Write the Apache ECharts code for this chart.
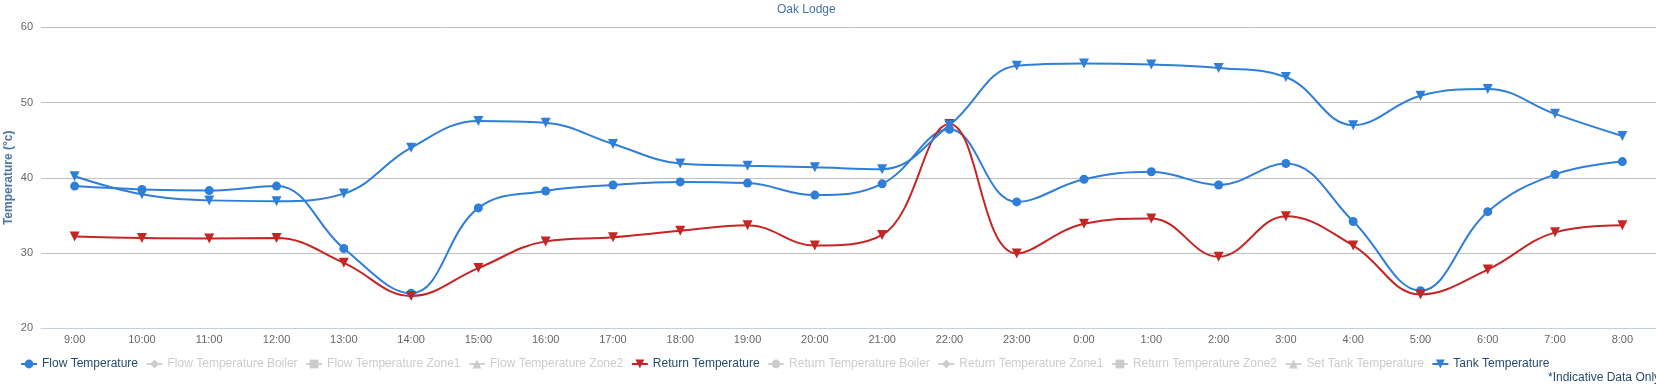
<!DOCTYPE html>
<html>
<head>
<meta charset="utf-8">
<script src="https://cdn.jsdelivr.net/npm/echarts@6/dist/echarts.min.js"></script>
<style>
html,body{margin:0;padding:0;background:#fff;}
#chart{width:1656px;height:390px;}
</style>
</head>
<body>
<div id="chart"></div>
<script>
var categories = ['9:00','10:00','11:00','12:00','13:00','14:00','15:00','16:00','17:00','18:00','19:00','20:00','21:00','22:00','23:00','0:00','1:00','2:00','3:00','4:00','5:00','6:00','7:00','8:00'];
var flowTemperature = [38.9,38.45,38.3,38.9,30.6,24.65,36.0,38.25,39.05,39.45,39.3,37.7,39.2,46.45,36.8,39.8,40.8,39.05,41.9,34.2,25.0,35.5,40.45,42.15];
var returnTemperature = [32.2,32.0,31.95,32.0,28.7,24.3,28.0,31.55,32.1,32.95,33.7,31.0,32.4,47.15,29.95,33.9,34.6,29.5,34.9,31.0,24.5,27.8,32.75,33.7];
var tankTemperature = [40.2,37.8,37.0,36.9,37.9,44.0,47.55,47.3,44.5,41.9,41.6,41.4,41.15,47.0,54.9,55.2,55.05,54.6,53.4,47.0,50.9,51.8,48.5,45.55];
var flowTemperatureBoiler = [];
var flowTemperatureZone1 = [];
var flowTemperatureZone2 = [];
var returnTemperatureBoiler = [];
var returnTemperatureZone1 = [];
var returnTemperatureZone2 = [];
var setTankTemperature = [];
var yTicks = [20, 30, 40, 50, 60];

var chart = echarts.init(document.getElementById('chart'), null, {renderer: 'canvas'});
var FONT = '"Liberation Sans", Arial, sans-serif';
var BLUE = '#2f7ed8';
var RED = '#c42525';

function mk(name, data, color, symbol, rot, size) {
  return {
    name: name, type: 'line', data: data, smooth: 0.4,
    symbol: symbol, symbolSize: size || 9, symbolRotate: rot || 0,
    showSymbol: true,
    itemStyle: {color: color},
    lineStyle: {color: color, width: 2},
    emphasis: {disabled: true},
    animation: false, z: 3
  };
}

var option = {
  animation: false,
  title: {
    text: 'Oak Lodge', left: 777, top: 4, padding: 0,
    textStyle: {fontFamily: FONT, fontSize: 12, fontWeight: 'normal', color: '#4572A7'}
  },
  grid: {left: 41, right: 0, top: 27.3, height: 301, containLabel: false, outerBoundsMode: 'none'},
  legend: {
    left: 20, top: 358, padding: 0, itemGap: 7.5, itemWidth: 16, itemHeight: 11,
    textStyle: {fontFamily: FONT, fontSize: 12, color: '#274b6d'},
    inactiveColor: '#cccccc',
    selected: {
      'Flow Temperature Boiler': false,
      'Flow Temperature Zone1': false,
      'Flow Temperature Zone2': false,
      'Return Temperature Boiler': false,
      'Return Temperature Zone1': false,
      'Return Temperature Zone2': false,
      'Set Tank Temperature': false
    },
    data: ['Flow Temperature','Flow Temperature Boiler','Flow Temperature Zone1','Flow Temperature Zone2','Return Temperature','Return Temperature Boiler','Return Temperature Zone1','Return Temperature Zone2','Set Tank Temperature','Tank Temperature']
  },
  xAxis: {
    type: 'category', data: categories, boundaryGap: true,
    axisLine: {lineStyle: {color: '#C0D0E0', width: 1}},
    axisTick: {alignWithLabel: true, length: 5, lineStyle: {color: '#C0D0E0'}},
    axisLabel: {fontFamily: FONT, fontSize: 11, color: '#666666', margin: 6, interval: 0},
    splitLine: {show: false}
  },
  yAxis: {
    type: 'value', min: yTicks[0], max: yTicks[yTicks.length - 1], interval: 10,
    name: 'Temperature (°c)', nameLocation: 'middle', nameGap: 26, nameMoveOverlap: false,
    nameTextStyle: {fontFamily: FONT, fontSize: 12, fontWeight: 'bold', color: '#4d759e'},
    axisLine: {show: false}, axisTick: {show: false},
    axisLabel: {fontFamily: FONT, fontSize: 11, color: '#666666', margin: 8},
    splitLine: {lineStyle: {color: '#C0C0C0', width: 1}}
  },
  graphic: [{
    type: 'text', left: 1548, top: 372,
    style: {text: '*Indicative Data Only', font: '12px ' + FONT, fill: '#274b6d'}
  }],
  series: [
    mk('Flow Temperature', flowTemperature, BLUE, 'circle', 0, 9),
    mk('Flow Temperature Boiler', flowTemperatureBoiler, '#0d233a', 'diamond'),
    mk('Flow Temperature Zone1', flowTemperatureZone1, '#8bbc21', 'rect'),
    mk('Flow Temperature Zone2', flowTemperatureZone2, '#910000', 'triangle'),
    mk('Return Temperature', returnTemperature, RED, 'triangle', 180, 10),
    mk('Return Temperature Boiler', returnTemperatureBoiler, '#1aadce', 'circle'),
    mk('Return Temperature Zone1', returnTemperatureZone1, '#492970', 'diamond'),
    mk('Return Temperature Zone2', returnTemperatureZone2, '#f28f43', 'rect'),
    mk('Set Tank Temperature', setTankTemperature, '#77a1e5', 'triangle'),
    mk('Tank Temperature', tankTemperature, BLUE, 'triangle', 180, 10)
  ]
};
chart.setOption(option);
</script>
</body>
</html>
